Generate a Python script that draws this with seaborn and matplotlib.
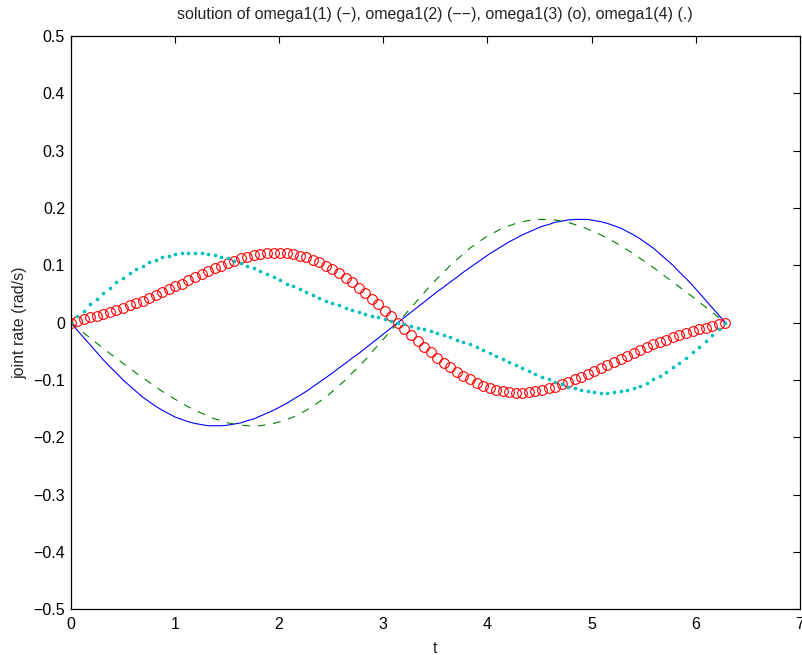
import numpy as np
import matplotlib
matplotlib.use("Agg")
import matplotlib.pyplot as plt
from matplotlib.ticker import FuncFormatter
import seaborn as sns

# sample times, 101 points over one period
t = np.linspace(0, 2 * np.pi, 101)

# omega1(1), solid blue
omega1 = [0, -0.013, -0.026, -0.039, -0.052, -0.065, -0.077, -0.088, -0.100, -0.110,
          -0.120, -0.130, -0.138, -0.146, -0.153, -0.159, -0.165, -0.169, -0.173, -0.176,
          -0.178, -0.180, -0.180, -0.180, -0.179, -0.177, -0.175, -0.171, -0.168, -0.163,
          -0.158, -0.153, -0.147, -0.141, -0.134, -0.127, -0.120, -0.112, -0.104, -0.096,
          -0.088, -0.079, -0.071, -0.062, -0.054, -0.045, -0.036, -0.027, -0.018, -0.009,
          0,
          0.009, 0.018, 0.027, 0.036, 0.045, 0.054, 0.062, 0.071, 0.079, 0.088,
          0.096, 0.104, 0.112, 0.120, 0.127, 0.134, 0.141, 0.147, 0.153, 0.158,
          0.163, 0.168, 0.171, 0.175, 0.177, 0.179, 0.180, 0.180, 0.180, 0.178,
          0.176, 0.173, 0.169, 0.165, 0.159, 0.153, 0.146, 0.138, 0.130, 0.120,
          0.110, 0.100, 0.088, 0.077, 0.065, 0.052, 0.039, 0.026, 0.013, 0]

# omega1(2), dashed green
omega2 = [0, -0.009, -0.018, -0.027, -0.036, -0.045, -0.054, -0.062, -0.071, -0.079,
          -0.088, -0.096, -0.104, -0.112, -0.120, -0.127, -0.134, -0.141, -0.147, -0.153,
          -0.158, -0.163, -0.168, -0.171, -0.175, -0.177, -0.179, -0.180, -0.180, -0.180,
          -0.178, -0.176, -0.173, -0.169, -0.165, -0.159, -0.153, -0.146, -0.138, -0.130,
          -0.120, -0.110, -0.100, -0.088, -0.077, -0.065, -0.052, -0.039, -0.026, -0.013,
          0,
          0.013, 0.026, 0.039, 0.052, 0.065, 0.077, 0.088, 0.100, 0.110, 0.120,
          0.130, 0.138, 0.146, 0.153, 0.159, 0.165, 0.169, 0.173, 0.176, 0.178,
          0.180, 0.180, 0.180, 0.179, 0.177, 0.175, 0.171, 0.168, 0.163, 0.158,
          0.153, 0.147, 0.141, 0.134, 0.127, 0.120, 0.112, 0.104, 0.096, 0.088,
          0.079, 0.071, 0.062, 0.054, 0.045, 0.036, 0.027, 0.018, 0.009, 0]

# omega1(3), red circles
omega3 = [0, 0.003, 0.006, 0.009, 0.012, 0.015, 0.019, 0.022, 0.026, 0.030,
          0.034, 0.038, 0.043, 0.048, 0.053, 0.058, 0.063, 0.068, 0.074, 0.079,
          0.085, 0.090, 0.095, 0.099, 0.104, 0.108, 0.112, 0.115, 0.118, 0.120,
          0.121, 0.122, 0.122, 0.121, 0.119, 0.117, 0.114, 0.110, 0.105, 0.099,
          0.093, 0.086, 0.078, 0.070, 0.061, 0.052, 0.042, 0.032, 0.021, 0.011,
          0,
          -0.011, -0.021, -0.032, -0.042, -0.052, -0.061, -0.070, -0.078, -0.086, -0.093,
          -0.099, -0.105, -0.110, -0.114, -0.117, -0.119, -0.121, -0.122, -0.122, -0.121,
          -0.120, -0.118, -0.115, -0.112, -0.108, -0.104, -0.099, -0.095, -0.090, -0.085,
          -0.079, -0.074, -0.068, -0.063, -0.058, -0.053, -0.048, -0.043, -0.038, -0.034,
          -0.030, -0.026, -0.022, -0.019, -0.015, -0.012, -0.009, -0.006, -0.003, 0]

# omega1(4), cyan dots
omega4 = [0, 0.011, 0.021, 0.032, 0.042, 0.052, 0.061, 0.070, 0.078, 0.086,
          0.093, 0.099, 0.105, 0.110, 0.114, 0.117, 0.119, 0.121, 0.122, 0.122,
          0.121, 0.120, 0.118, 0.115, 0.112, 0.108, 0.104, 0.099, 0.095, 0.090,
          0.085, 0.079, 0.074, 0.068, 0.063, 0.058, 0.053, 0.048, 0.043, 0.038,
          0.034, 0.030, 0.026, 0.022, 0.019, 0.015, 0.012, 0.009, 0.006, 0.003,
          0,
          -0.003, -0.006, -0.009, -0.012, -0.015, -0.019, -0.022, -0.026, -0.030, -0.034,
          -0.038, -0.043, -0.048, -0.053, -0.058, -0.063, -0.068, -0.074, -0.079, -0.085,
          -0.090, -0.095, -0.099, -0.104, -0.108, -0.112, -0.115, -0.118, -0.120, -0.121,
          -0.122, -0.122, -0.121, -0.119, -0.117, -0.114, -0.110, -0.105, -0.099, -0.093,
          -0.086, -0.078, -0.070, -0.061, -0.052, -0.042, -0.032, -0.021, -0.011, 0]

xticks = [0, 1, 2, 3, 4, 5, 6, 7]
yticks = [-0.5, -0.4, -0.3, -0.2, -0.1, 0, 0.1, 0.2, 0.3, 0.4, 0.5]

sns.set_style("white")
plt.rcParams['font.family'] = ['Liberation Sans', 'DejaVu Sans']
plt.rcParams['font.size'] = 11.5

fig = plt.figure(figsize=(8.02, 6.55), dpi=100)
ax = fig.add_axes([0.088, 0.070, 0.9095, 0.875])

sns.lineplot(x=t, y=omega1, ax=ax, color=(0, 0, 1), lw=0.8, sort=False)
sns.lineplot(x=t, y=omega2, ax=ax, color=(0, 0.5, 0), lw=0.8, sort=False,
             dashes=False, linestyle=(0, (7, 7)))
sns.lineplot(x=t, y=omega3, ax=ax, sort=False, linestyle='none', marker='o',
             markersize=7, markerfacecolor='none', markeredgecolor=(1, 0, 0),
             markeredgewidth=0.8, color=(1, 0, 0))
sns.lineplot(x=t, y=omega4, ax=ax, sort=False, linestyle='none', marker='o',
             markersize=2.6, markerfacecolor=(0, 0.75, 0.75),
             markeredgecolor=(0, 0.75, 0.75), markeredgewidth=0, color=(0, 0.75, 0.75))

ax.set_xlim(0, 7)
ax.set_ylim(-0.5, 0.5)
ax.set_xticks(xticks)
ax.set_yticks(yticks)
ax.yaxis.set_major_formatter(FuncFormatter(
    lambda v, p: '0' if abs(v) < 1e-9 else ('%g' % round(v, 1)).replace('-', '\u2212')))
ax.tick_params(direction='in', length=5, width=0.8, top=True, right=True,
               labelsize=11.5, colors='black')
ax.tick_params(axis='x', pad=6)
ax.tick_params(axis='y', pad=4)
for s in ax.spines.values():
    s.set_visible(True)
    s.set_color('black')
    s.set_linewidth(0.9)

ax.set_xlabel('t', fontsize=11.5, labelpad=6)
ax.set_ylabel('joint rate (rad/s)', fontsize=11.5, labelpad=4)
ax.set_title('solution of omega1(1) (\u2212), omega1(2) (\u2212\u2212), '
             'omega1(3) (o), omega1(4) (.)', fontsize=11.5, pad=12)

fig.savefig('out.png', dpi=100)
